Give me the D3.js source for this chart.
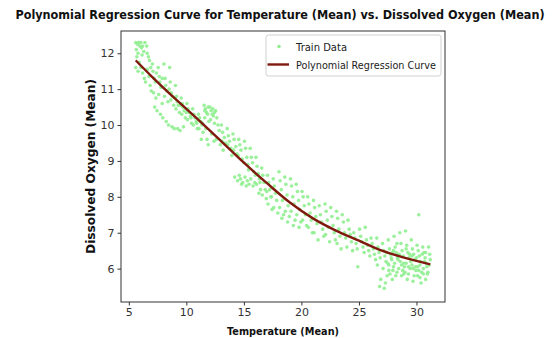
<!DOCTYPE html>
<html>
<head>
<meta charset="utf-8">
<script src="https://cdn.jsdelivr.net/npm/d3@7"></script>
<style>
  body { margin: 0; background: #fff; }
  text { font-family: "DejaVu Sans", sans-serif; }
</style>
</head>
<body>
<div id="chart"></div>
<script>
// Train data: [temperature, dissolved oxygen]
const trainPoints = [
  [5.6,12.3],[5.65,12.1],[5.7,11.9],[5.75,12.25],[5.8,12.0],[5.85,12.3],[5.9,11.75],[5.95,12.2],[5.6,11.6],[5.8,11.5],
  [6.05,12.3],[6.1,12.15],[6.15,11.95],[6.2,12.2],[6.3,12.05],[6.05,11.6],[6.2,11.45],[6.35,11.3],[6.45,11.2],[6.4,12.3],
  [6.55,12.2],[6.6,12.0],[6.7,11.9],[6.8,11.8],[6.6,11.55],[6.75,11.35],[6.85,11.1],[6.95,10.95],
  [7.05,11.7],[7.1,11.5],[7.2,11.3],[7.3,11.2],[7.15,10.9],[7.35,10.75],[7.25,10.5],[7.45,10.4],
  [7.55,11.6],[7.65,11.35],[7.7,11.2],[7.8,11.05],[7.6,10.85],[7.9,10.6],[7.75,10.3],[7.95,10.2],
  [8.05,11.7],[8.15,11.3],[8.2,11.1],[8.3,10.95],[8.1,10.8],[8.4,10.65],[8.25,10.1],[8.45,10.0],
  [8.55,11.6],[8.6,11.2],[8.7,10.9],[8.8,10.8],[8.65,10.7],[8.9,10.55],[8.75,9.95],[8.95,9.9],
  [9.05,11.1],[9.15,10.8],[9.2,10.65],[9.3,10.55],[9.1,10.45],[9.4,10.35],[9.25,9.9],[9.45,9.85],
  [9.55,10.75],[9.65,10.6],[9.7,10.5],[9.8,10.4],[9.6,10.3],[9.9,10.2],[9.75,9.95],
  [10.05,10.6],[10.15,10.45],[10.25,10.35],[10.35,10.25],[10.1,10.15],[10.45,10.05],
  [10.55,10.45],[10.65,10.3],[10.75,10.2],[10.85,10.1],[10.6,10.0],[10.95,9.9],
  [11.05,10.3],[11.15,10.2],[11.25,10.1],[11.35,10.0],[11.1,9.9],[11.45,9.8],[11.3,9.6],
  [11.55,10.55],[11.65,10.45],[11.75,10.35],[11.85,10.3],[11.6,10.2],[11.95,10.1],[11.7,9.9],[11.8,9.6],[11.9,9.45],[11.6,10.4],[11.9,10.5],
  [12.05,10.5],[12.15,10.4],[12.25,10.3],[12.35,10.25],[12.1,10.15],[12.45,10.05],[12.2,9.75],[12.4,9.55],[12.3,10.45],[12.45,10.35],
  [12.55,10.4],[12.65,10.2],[12.75,10.0],[12.85,9.85],[12.6,9.6],[12.95,9.45],
  [13.05,10.0],[13.15,9.8],[13.3,9.65],[13.4,9.5],[13.2,9.3],
  [13.55,9.9],[13.65,9.7],[13.75,9.55],[13.85,9.35],[13.95,9.15],
  [14.05,9.75],[14.15,9.6],[14.3,9.4],[14.4,9.2],[14.2,8.55],[14.45,8.45],
  [14.55,9.6],[14.65,9.45],[14.75,9.3],[14.85,9.05],[14.6,8.6],[14.7,8.5],[14.9,8.4],[14.8,8.35],
  [15.05,9.55],[15.15,9.35],[15.25,9.1],[15.35,8.9],[15.1,8.55],[15.3,8.45],[15.45,8.35],[15.2,8.3],
  [15.55,9.35],[15.65,9.1],[15.75,8.95],[15.85,8.7],[15.6,8.5],[15.95,8.4],[15.8,8.3],
  [16.05,9.1],[16.15,8.85],[16.25,8.65],[16.35,8.5],[16.1,8.35],[16.45,8.2],[16.3,8.1],
  [16.55,8.8],[16.65,8.6],[16.75,8.4],[16.85,8.2],[16.6,8.05],[16.95,7.95],
  [17.05,8.6],[17.15,8.4],[17.25,8.2],[17.35,8.0],[17.1,7.8],[17.45,7.65],
  [17.55,8.5],[17.65,8.3],[17.75,8.1],[17.85,7.9],[17.6,7.7],[17.95,7.55],
  [18.05,8.7],[18.15,8.45],[18.25,8.2],[18.35,7.9],[18.1,7.7],[18.45,7.5],[18.3,7.4],
  [18.55,8.55],[18.65,8.35],[18.75,8.05],[18.85,7.75],[18.6,7.6],[18.95,7.45],[18.8,7.3],
  [19.05,8.5],[19.15,8.3],[19.25,8.0],[19.35,7.8],[19.1,7.6],[19.45,7.35],[19.3,7.2],
  [19.55,8.35],[19.65,8.15],[19.75,7.9],[19.85,7.65],[19.6,7.5],[19.95,7.3],[19.8,7.15],
  [20.05,8.15],[20.15,8.0],[20.25,7.75],[20.35,7.5],[20.1,7.35],[20.45,7.2],
  [20.55,8.0],[20.65,7.8],[20.75,7.55],[20.85,7.35],[20.6,7.15],[20.95,7.0],
  [21.05,7.9],[21.15,7.7],[21.25,7.45],[21.35,7.25],[21.1,7.0],[21.45,6.8],
  [21.55,7.75],[21.65,7.5],[21.75,7.3],[21.85,7.1],[21.95,6.9],
  [22.05,7.8],[22.15,7.6],[22.25,7.35],[22.35,7.15],[22.1,6.95],[22.45,6.75],
  [22.55,7.7],[22.65,7.45],[22.75,7.2],[22.85,7.0],[22.95,6.8],
  [23.05,7.6],[23.15,7.4],[23.25,7.1],[23.35,6.9],[23.1,6.7],[23.45,6.55],
  [23.55,7.5],[23.65,7.3],[23.75,7.0],[23.85,6.85],[23.95,6.6],
  [24.05,7.35],[24.15,7.1],[24.25,6.95],[24.35,6.75],[24.45,6.5],
  [24.55,7.0],[24.65,6.85],[24.75,6.7],[24.85,6.55],[24.9,6.05],
  [25.05,7.1],[25.15,6.9],[25.25,6.75],[25.35,6.6],[25.45,6.45],
  [25.55,7.15],[25.65,6.8],[25.75,6.65],[25.85,6.5],[25.95,6.35],
  [26.05,6.85],[26.15,6.7],[26.25,6.55],[26.35,6.4],[26.45,6.25],
  [26.55,6.85],[26.65,6.6],[26.75,6.45],[26.85,6.3],[26.6,6.1],[26.9,5.7],[26.8,5.5],
  [27.05,6.7],[27.15,6.5],[27.25,6.35],[27.35,6.2],[27.1,6.0],[27.45,5.8],[27.3,5.6],[27.2,5.45],
  [27.55,6.8],[27.65,6.55],[27.75,6.4],[27.85,6.25],[27.6,6.1],[27.95,5.95],[27.7,5.85],[27.9,5.7],
  [28.05,6.9],[28.15,6.6],[28.25,6.45],[28.35,6.3],[28.1,6.15],[28.45,6.0],[28.3,5.9],[28.2,5.8],
  [28.55,7.0],[28.65,6.7],[28.75,6.5],[28.85,6.35],[28.6,6.2],[28.95,6.05],[28.8,5.95],[28.7,5.8],
  [29.05,7.05],[29.15,6.65],[29.25,6.45],[29.35,6.3],[29.1,6.15],[29.45,6.0],[29.3,5.85],[29.2,5.7],
  [29.55,6.8],[29.65,6.55],[29.75,6.4],[29.85,6.25],[29.6,6.1],[29.95,5.95],[29.8,5.8],[29.7,5.65],
  [30.2,7.5],[30.05,6.65],[30.15,6.5],[30.25,6.35],[30.35,6.2],[30.1,6.05],[30.45,5.9],[30.3,5.75],[30.4,5.6],
  [30.55,6.6],[30.65,6.45],[30.75,6.3],[30.85,6.15],[30.6,6.0],[30.95,5.85],[30.8,5.7],
  [31.05,6.6],[31.15,6.4],[31.2,6.25],[31.1,6.1],[31.0,5.9],
  // denser cloud at the warm end
  [27.4,6.45],[27.8,6.3],[28.0,6.05],[28.4,6.25],[28.9,6.15],[29.0,5.9],[29.4,6.4],[29.5,6.2],[29.9,6.05],[30.0,6.3],
  [30.3,6.1],[30.5,6.4],[30.7,6.2],[30.9,6.05],[28.5,6.4],[28.0,6.5],[27.5,6.15],[29.7,6.0],[30.2,5.95],[29.1,6.55],
  [28.3,6.7],[27.9,6.45],[29.6,6.35],[30.8,6.45],[28.7,6.1],[27.6,5.95],[29.3,6.05],[30.6,5.85],[28.9,5.85],[30.1,5.8],
  // denser band along the cool end
  [6.9,11.6],[7.4,11.45],[7.9,11.3],[8.5,11.0],[9.0,10.75],[9.5,10.55],[10.0,10.35],[10.4,10.2],[10.9,10.05],[11.4,10.05],
  [13.1,9.55],[13.6,9.45],[14.1,9.3],[14.5,9.15],[15.0,8.95],[15.4,8.75],[16.0,8.6],[16.4,8.4],[17.0,8.15],[17.4,8.0]
];

// Polynomial regression curve
const curveTemp = [5.6, 7, 9, 11, 13, 15, 17, 19, 21, 23, 25, 27, 29, 31.2];
const curveDO = [11.8, 11.35, 10.74, 10.16, 9.56, 8.95, 8.38, 7.84, 7.40, 7.06, 6.78, 6.50, 6.30, 6.12];

const xTicks = [5, 10, 15, 20, 25, 30];
const yTicks = [6, 7, 8, 9, 10, 11, 12];

const legendLabels = ['Train Data', 'Polynomial Regression Curve'];

const titleText = 'Polynomial Regression Curve for Temperature (Mean) vs. Dissolved Oxygen (Mean)';
const xLabelText = 'Temperature (Mean)';
const yLabelText = 'Dissolved Oxygen (Mean)';

// Plot box inside the 555x338 page
const margin = {top: 31, right: 110, bottom: 36, left: 121};
const width = 555 - margin.left - margin.right;
const height = 338 - margin.top - margin.bottom;

const pointColor = '#90ee90';
const curveColor = '#7f1a0e';
const axisColor = '#333';

const svg = d3.select('#chart')
  .append('svg')
  .attr('width', 555)
  .attr('height', 338);

const g = svg.append('g')
  .attr('transform', 'translate(' + margin.left + ',' + margin.top + ')');

// Scales
const x = d3.scaleLinear().domain([4.32, 32.48]).range([0, width]);
const y = d3.scaleLinear().domain([5.07, 12.62]).range([height, 0]);

// Scatter points
g.append('g')
  .selectAll('circle')
  .data(trainPoints)
  .enter()
  .append('circle')
  .attr('cx', d => x(d[0]))
  .attr('cy', d => y(d[1]))
  .attr('r', 1.8)
  .style('fill', pointColor)
  .style('opacity', 0.9);

// Regression curve
const line = d3.line()
  .x(d => x(d[0]))
  .y(d => y(d[1]))
  .curve(d3.curveMonotoneX);

g.append('path')
  .datum(curveTemp.map((t, i) => [t, curveDO[i]]))
  .attr('d', line)
  .style('fill', 'none')
  .style('stroke', curveColor)
  .style('stroke-width', 2.4);

// Axes
const xAxis = d3.axisBottom(x).tickValues(xTicks).tickSize(3.5).tickPadding(3).tickSizeOuter(0);
const yAxis = d3.axisLeft(y).tickValues(yTicks).tickSize(3.5).tickPadding(3).tickSizeOuter(0);

const gX = g.append('g')
  .attr('transform', 'translate(0,' + height + ')')
  .call(xAxis);

const gY = g.append('g').call(yAxis);

[gX, gY].forEach(a => {
  a.select('.domain').remove();
  a.selectAll('line').style('stroke', axisColor);
  a.selectAll('text')
    .style('fill', axisColor)
    .style('font-size', '11px')
    .style('font-family', '"DejaVu Sans", sans-serif');
});

// Frame around the plot
g.append('rect')
  .attr('width', width)
  .attr('height', height)
  .style('fill', 'none')
  .style('stroke', axisColor)
  .style('stroke-width', 1);

// Title: squeeze horizontally to the width it has in the picture
const title = svg.append('text')
  .attr('text-anchor', 'middle')
  .style('font-size', '12.5px')
  .style('font-weight', 'bold')
  .style('fill', '#111')
  .text(titleText);

const titleWidth = title.node().getComputedTextLength();
title.attr('transform', 'translate(280,19) scale(' + (530 / titleWidth) + ',1)');

svg.append('text')
  .attr('x', margin.left + width / 2)
  .attr('y', 335)
  .attr('text-anchor', 'middle')
  .attr('textLength', 112)
  .attr('lengthAdjust', 'spacingAndGlyphs')
  .style('font-size', '11px')
  .style('font-weight', 'bold')
  .style('fill', '#111')
  .text(xLabelText);

svg.append('text')
  .attr('transform', 'translate(95,' + (margin.top + height / 2) + ') rotate(-90)')
  .attr('text-anchor', 'middle')
  .attr('textLength', 175)
  .attr('lengthAdjust', 'spacingAndGlyphs')
  .style('font-size', '11.5px')
  .style('font-weight', 'bold')
  .style('fill', '#111')
  .text(yLabelText);

// Legend
const legend = svg.append('g').attr('transform', 'translate(266,35)');

legend.append('rect')
  .attr('width', 175)
  .attr('height', 41)
  .attr('rx', 2.5)
  .style('fill', '#fff')
  .style('fill-opacity', 0.8)
  .style('stroke', '#d0d0d0');

legend.append('circle')
  .attr('cx', 13)
  .attr('cy', 11.5)
  .attr('r', 1.8)
  .style('fill', pointColor);

legend.append('line')
  .attr('x1', 1.5)
  .attr('x2', 23)
  .attr('y1', 29.5)
  .attr('y2', 29.5)
  .style('stroke', curveColor)
  .style('stroke-width', 2.4);

legend.selectAll('text.label')
  .data(legendLabels)
  .enter()
  .append('text')
  .attr('class', 'label')
  .attr('x', 30)
  .attr('y', (d, i) => 15.5 + i * 18)
  .attr('textLength', (d, i) => i === 0 ? 51 : 140)
  .attr('lengthAdjust', 'spacingAndGlyphs')
  .style('font-size', '11px')
  .style('fill', '#222')
  .text(d => d);
</script>
</body>
</html>
